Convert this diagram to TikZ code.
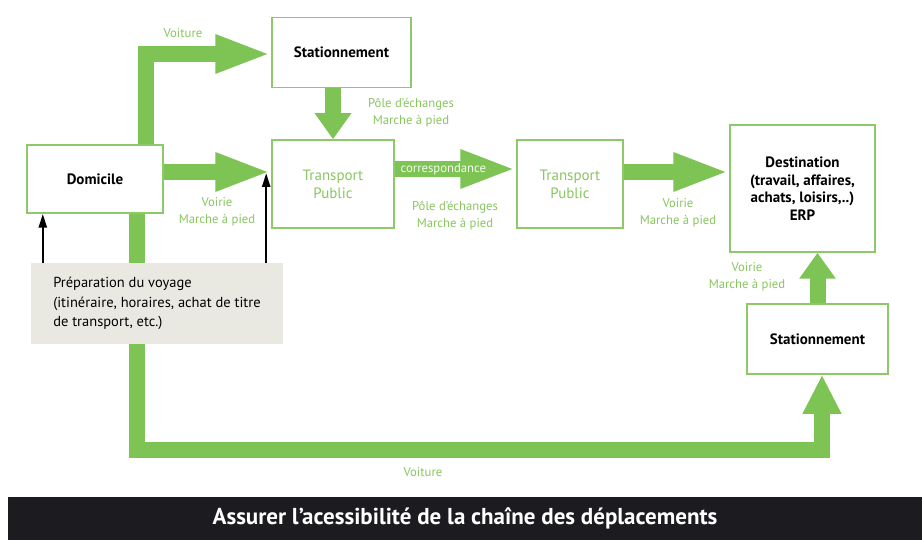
\documentclass[tikz,border=0pt]{standalone}
\usepackage{fontspec}
\setmainfont{PT Sans}
\usetikzlibrary{arrows.meta,positioning}
\definecolor{flowgreen}{RGB}{126,196,84}
\definecolor{boxgreen}{RGB}{141,201,104}
\definecolor{labelgreen}{RGB}{137,198,96}
\definecolor{prepgray}{RGB}{234,233,225}
\definecolor{barblack}{RGB}{28,27,31}

\begin{document}
\begin{tikzpicture}[x=1pt, y=-1pt, line join=miter]
		\tikzstyle{place} = [rectangle, draw=boxgreen, line width=1.5pt, align=center, font=\fontsize{15}{17.5}\selectfont\bfseries];
		\tikzstyle{transport} = [place, text=labelgreen, font=\fontsize{15}{18}\selectfont];
		\tikzstyle{mode} = [align=center, text=labelgreen, inner sep=0pt, font=\fontsize{12.7}{17}\selectfont];
		\tikzstyle{flow} = [draw=flowgreen, line width=16pt];
		\tikzstyle{long head} = [-{Triangle[width=35pt,length=56pt]}];
		\tikzstyle{short head} = [-{Triangle[width=35pt,length=26pt]}];
		\tikzstyle{info} = [line width=2.5pt, -{Triangle[width=8pt,length=14pt]}];

		\useasboundingbox[fill=white] (0,0) rectangle (922,540);

		% nodes
		\node[place, minimum width=136pt, minimum height=68pt](domicile) at (95,179){Domicile};
		\node[place, minimum width=139pt, minimum height=70pt](parking haut) at (341.5,52.5){Stationnement};
		\node[transport, minimum width=122pt, minimum height=88pt](tp un) at (333,184){Transport\\Public};
		\node[transport, minimum width=106pt, minimum height=88pt](tp deux) at (570,184){Transport\\Public};
		\node[place, minimum width=145pt, minimum height=127pt](destination) at (802.5,188.5){Destination\\(travail, affaires,\\achats, loisirs,..)\\ERP};
		\node[place, minimum width=141pt, minimum height=70pt](parking bas) at (817.5,339){Stationnement};

		% voiture par le bas, derriere la preparation
		\draw[flow, -{Triangle[width=36pt,length=39pt]}] ([xshift=42pt]domicile.south) -- ++(0,236) -| ([xshift=4.5pt]parking bas.south);

		\node[rectangle, fill=prepgray, minimum width=252pt, minimum height=81pt, align=left, font=\fontsize{14.5}{19.5}\selectfont](preparation) at (157,303.5){Préparation du voyage\\(itinéraire, horaires, achat de titre\\de transport, etc.)};

		% fleches vertes
		\draw[flow, long head] ([xshift=51pt]domicile.north) |- ([yshift=-1.5pt]parking haut.west);
		\draw[flow, short head] (tp un.north |- parking haut.south) -- (tp un.north);
		\draw[flow, long head] ([yshift=7pt]domicile.east) -- ([yshift=7pt]domicile.east -| tp un.west);
		\draw[flow, long head] ([yshift=15pt]tp un.east) -- node[pos=0.4, text=white!92!flowgreen, font=\fontsize{12.7}{14}\selectfont, inner sep=0pt]{correspondance} ([yshift=15pt]tp deux.west);
		\draw[flow, long head] ([yshift=12pt]tp deux.east) -- ([yshift=12pt]tp deux.east -| destination.west);
		\draw[flow, short head] (parking bas.north) -- (parking bas.north |- destination.south);

		% fleches noires
		\draw[info] ([xshift=12pt]preparation.north west) -- ([xshift=12pt]preparation.north west |- domicile.south);
		\draw[info] ([xshift=-17pt]preparation.north east) -- ([xshift=-17pt, yshift=11pt]preparation.north east |- tp un.west);

		% libelles
		\node[mode](voiture haut) at (183,33){Voiture};
		\node[mode](pole un) at (411,113){Pôle d'échanges\\Marche à pied};
		\node[mode](voirie un) at (217,212){Voirie\\Marche à pied};
		\node[mode](pole deux) at (455,216){Pôle d'échanges\\Marche à pied};
		\node[mode](voirie deux) at (678,213){Voirie\\Marche à pied};
		\node[mode](voirie trois) at (747,277){Voirie\\Marche à pied};
		\node[mode](voiture bas) at (423,472){Voiture};

		\node[rectangle, fill=barblack, text=white, minimum width=914pt, minimum height=43pt, font=\fontsize{23}{26}\selectfont\bfseries](titre) at (465,518.5){Assurer l’acessibilité de la chaîne des déplacements};
\end{tikzpicture}
\end{document}
